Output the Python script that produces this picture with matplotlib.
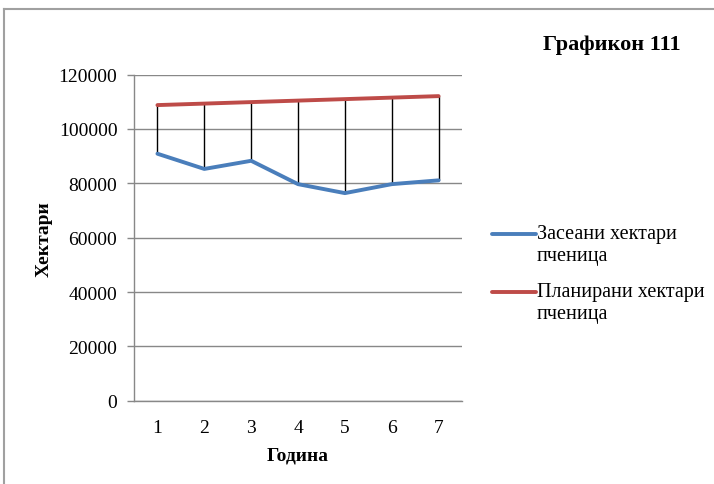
import matplotlib
matplotlib.use('Agg')
import matplotlib.pyplot as plt
from matplotlib.lines import Line2D

years = [1, 2, 3, 4, 5, 6, 7]
sown = [90900, 85300, 88300, 79700, 76400, 79700, 81100]
planned = [108800, 109350, 109900, 110450, 111000, 111550, 112100]
labels = ['Засеани хектари\nпченица', 'Планирани хектари\nпченица']
yticks = [0, 20000, 40000, 60000, 80000, 100000, 120000]

plt.rcParams['font.family'] = ['Liberation Serif', 'DejaVu Serif']

fig = plt.figure(figsize=(7.14, 4.85), dpi=100)
ax = fig.add_axes([0.1877, 0.1718, 0.4594, 0.6722])

# drop lines between the two series
ax.vlines(years, sown, planned, colors='black', linewidth=1.0, zorder=2)
l1, = ax.plot(years, sown, color='#4A7EBB', linewidth=2.8, solid_capstyle='round', zorder=3)
l2, = ax.plot(years, planned, color='#BE4B48', linewidth=2.8, solid_capstyle='round', zorder=3)

ax.set_xlim(0.5, 7.5)
ax.set_ylim(0, 120000)
ax.set_yticks(yticks)
ax.set_yticklabels([str(v) for v in yticks], fontsize=14)
ax.set_xticks(years)
ax.set_xticklabels([str(v) for v in years], fontsize=14)
ax.tick_params(axis='x', length=0, pad=13)
ax.tick_params(axis='y', length=5, width=1, color='#888888', pad=7)
ax.yaxis.grid(True, color='#888888', linewidth=1)
ax.set_axisbelow(True)
for side in ['top', 'right']:
    ax.spines[side].set_visible(False)
for side in ['left', 'bottom']:
    ax.spines[side].set_color('#888888')
    ax.spines[side].set_linewidth(1)

ax.set_xlabel('Година', fontsize=14, fontweight='bold', labelpad=8)
ax.set_ylabel('Хектари', fontsize=14, fontweight='bold', labelpad=4)

fig.text(0.857, 0.907, 'Графикон 111', fontsize=16, fontweight='bold', ha='center', va='center')

# legend drawn by hand so the key sits on the first text row, as in Excel
rows = [1 - 235 / 485, 1 - 293 / 485]
row_gap = 22 / 485
for line, label, y in zip([l1, l2], labels, rows):
    fig.add_artist(Line2D([0.689, 0.750], [y, y], color=line.get_color(),
                          linewidth=line.get_linewidth(), solid_capstyle='round'))
    for i, part in enumerate(label.split('\n')):
        fig.text(0.752, y - i * row_gap, part, fontsize=14.5, ha='left', va='center')

# chart frame
fig.add_artist(Line2D([0.0063, 0.0063], [0, 0.979], color='#A0A0A0', linewidth=1.5))
fig.add_artist(Line2D([0.0063, 1.0], [0.979, 0.979], color='#A0A0A0', linewidth=1.5))

fig.savefig('out.png', dpi=100)
